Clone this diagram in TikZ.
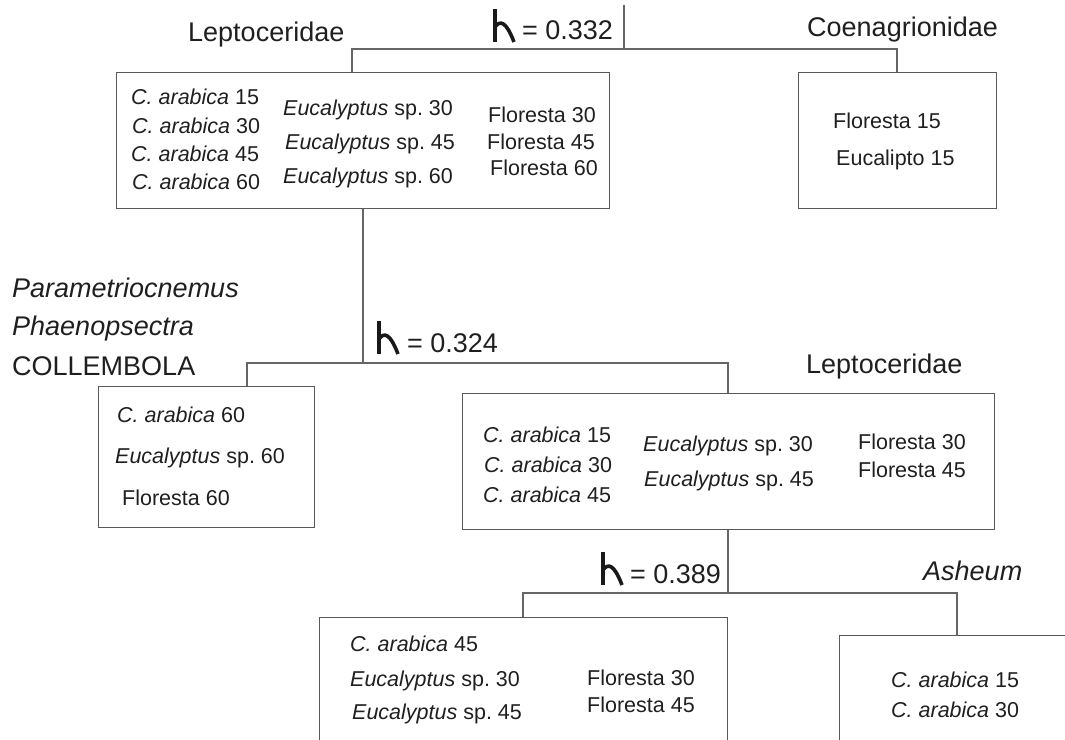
\documentclass[tikz,border=0pt]{standalone}
\usepackage{fontspec}
\setmainfont{Liberation Sans}
\frenchspacing
\begin{document}
\begin{tikzpicture}[x=1pt,y=-1pt]
\tikzset{
  box/.style={draw=black!65, line width=1.2pt, inner sep=0pt, anchor=north west},
  link/.style={draw=black!60, line width=1.2pt},
  txt/.style={font=\fontsize{21.5}{24}\selectfont, inner sep=0pt, anchor=base west, text=black!88},
  head/.style={font=\fontsize{27}{30}\selectfont, inner sep=0pt, anchor=base west, text=black!88},
  lam/.pic={
    \draw[line width=3.8pt, black!90] (0,0) -- (0,33);
    \draw[line width=3.6pt, black!90] (0,18) .. controls (5,11) and (11,12) .. (19,33);
  }
}
\useasboundingbox (0,0) rectangle (1065,739);
\clip (0,0) rectangle (1065,739);

% boxes
\node[box, minimum width=493pt, minimum height=136pt] (b1) at (116,72) {};
\node[box, minimum width=198pt, minimum height=136pt] (b2) at (798,72) {};
\node[box, minimum width=216pt, minimum height=141pt] (b3) at (98,386) {};
\node[box, minimum width=532pt, minimum height=136pt] (b4) at (462,393) {};
\node[box, minimum width=408pt, minimum height=160pt] (b5) at (319,617) {};
\node[box, minimum width=260pt, minimum height=160pt] (b6) at (839,635) {};

% connectors
\coordinate (t0) at (624,5);
\coordinate (h1) at (624,49);
\coordinate (h1l) at (352,49);
\coordinate (h1r) at (897,49);
\draw[link] (t0) -- (h1);
\draw[link] (b1.north -| h1l) -- (h1l) -- (h1r) -- (b2.north -| h1r);

\coordinate (h2) at (363,363);
\coordinate (h2l) at (247,363);
\coordinate (h2r) at (728,363);
\draw[link] (b1.south -| h2) -- (h2);
\draw[link] (b3.north -| h2l) -- (h2l) -- (h2r) -- (b4.north -| h2r);

\coordinate (h3) at (728,593);
\coordinate (h3l) at (523,593);
\coordinate (h3r) at (957,593);
\draw[link] (b4.south -| h3) -- (h3);
\draw[link] (b5.north -| h3l) -- (h3l) -- (h3r) -- (b6.north -| h3r);

% lambda-like glyphs and values
\pic at (495,9) {lam};
\node[head] (v1) at (522,39) {= 0.332};
\pic at (379,321) {lam};
\node[head] (v2) at (407,352) {= 0.324};
\pic at (603,552) {lam};
\node[head] (v3) at (630,583) {= 0.389};

% group labels
\node[head] (l1) at (188,41) {Leptoceridae};
\node[head] (l2) at (807,36) {Coenagrionidae};
\node[head] (l3) at (12,297) {\textit{Parametriocnemus}};
\node[head] (l4) at (12,335) {\textit{Phaenopsectra}};
\node[head] (l5) at (12,375) {COLLEMBOLA};
\node[head] (l6) at (806,373) {Leptoceridae};
\node[head] (l7) at (923,580) {\textit{Asheum}};

% box 1
\node[txt] (a11) at (131,104) {\textit{C. arabica} 15};
\node[txt] (a12) at (132,133) {\textit{C. arabica} 30};
\node[txt] (a13) at (131,161) {\textit{C. arabica} 45};
\node[txt] (a14) at (132,189) {\textit{C. arabica} 60};
\node[txt] (a21) at (283,115) {\textit{Eucalyptus} sp. 30};
\node[txt] (a22) at (285,149) {\textit{Eucalyptus} sp. 45};
\node[txt] (a23) at (283,183) {\textit{Eucalyptus} sp. 60};
\node[txt] (a31) at (488,122) {Floresta 30};
\node[txt] (a32) at (487,149) {Floresta 45};
\node[txt] (a33) at (490,175) {Floresta 60};

% box 2
\node[txt] (c1) at (833,128) {Floresta 15};
\node[txt] (c2) at (836,165) {Eucalipto 15};

% box 3
\node[txt] (d1) at (117,422) {\textit{C. arabica} 60};
\node[txt] (d2) at (115,463) {\textit{Eucalyptus} sp. 60};
\node[txt] (d3) at (122,505) {Floresta 60};

% box 4
\node[txt] (e11) at (483,442) {\textit{C. arabica} 15};
\node[txt] (e12) at (484,472) {\textit{C. arabica} 30};
\node[txt] (e13) at (483,502) {\textit{C. arabica} 45};
\node[txt] (e21) at (643,451) {\textit{Eucalyptus} sp. 30};
\node[txt] (e22) at (644,486) {\textit{Eucalyptus} sp. 45};
\node[txt] (e31) at (858,449) {Floresta 30};
\node[txt] (e32) at (858,477) {Floresta 45};

% box 5
\node[txt] (f1) at (350,651) {\textit{C. arabica} 45};
\node[txt] (f2) at (350,686) {\textit{Eucalyptus} sp. 30};
\node[txt] (f3) at (352,719) {\textit{Eucalyptus} sp. 45};
\node[txt] (f4) at (587,685) {Floresta 30};
\node[txt] (f5) at (587,712) {Floresta 45};

% box 6
\node[txt] (g1) at (891,687) {\textit{C. arabica} 15};
\node[txt] (g2) at (891,717) {\textit{C. arabica} 30};
\end{tikzpicture}
\end{document}
